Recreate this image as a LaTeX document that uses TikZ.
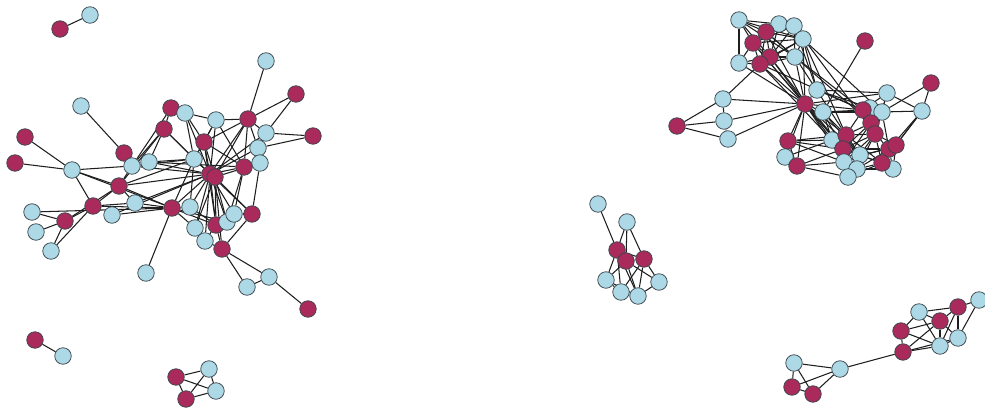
\documentclass[tikz,border=0pt]{standalone}
\usetikzlibrary{backgrounds}
\definecolor{nred}{HTML}{AA2A5C}
\definecolor{nblue}{HTML}{ADD8E6}
\definecolor{nline}{HTML}{37454B}
\definecolor{eline}{HTML}{1E1E1E}
\tikzset{
  vtx/.style={circle,draw=nline,line width=0.75pt,minimum size=16.5pt,inner sep=0pt},
  rv/.style={vtx,fill=nred},
  bv/.style={vtx,fill=nblue},
  link/.style={draw=eline,line width=1.05pt}
}
\newcommand{\links}[1]{\foreach \p/\q in {#1}{\draw[link] (\p) -- (\q);}}
\begin{document}
\begin{tikzpicture}[x=1pt,y=-1pt]
\useasboundingbox (0,0) rectangle (985,408);

% ---------- small components ----------
\node[rv] (p1) at (60,29) {};
\node[bv] (p2) at (90,15) {};
\node[rv] (q1) at (35,340) {};
\node[bv] (q2) at (63,356) {};
\node[rv] (s1) at (176,377) {};
\node[bv] (s2) at (209,369) {};
\node[bv] (s3) at (216,391) {};
\node[rv] (s4) at (186,399) {};

% ---------- left cluster ----------
\node[bv] (L1) at (81,106) {};
\node[rv] (L2) at (25,137) {};
\node[rv] (L3) at (15,163) {};
\node[bv] (L4) at (72,170) {};
\node[rv] (L5) at (124,153) {};
\node[bv] (L6) at (132,166) {};
\node[bv] (L7) at (149,162) {};
\node[rv] (L8) at (119,186) {};
\node[rv] (L9) at (93,206) {};
\node[bv] (L10) at (32,212) {};
\node[rv] (L11) at (65,221) {};
\node[bv] (L12) at (36,232) {};
\node[bv] (L13) at (51,251) {};
\node[bv] (L14) at (112,215) {};
\node[bv] (L15) at (135,203) {};
\node[rv] (L16) at (171,108) {};
\node[bv] (L17) at (185,113) {};
\node[rv] (L18) at (164,129) {};
\node[bv] (L19) at (216,120) {};
\node[rv] (L20) at (204,142) {};
\node[rv] (L21) at (248,119) {};
\node[bv] (L22) at (266,61) {};
\node[rv] (L23) at (296,94) {};
\node[bv] (L24) at (266,133) {};
\node[rv] (L25) at (313,136) {};
\node[bv] (L26) at (258,148) {};
\node[bv] (L27) at (260,163) {};
\node[bv] (L28) at (194,159) {};
\node[rv] (L29) at (210,174) {};
\node[rv] (L30) at (215,177) {};
\node[rv] (L31) at (244,167) {};
\node[rv] (L32) at (172,208) {};
\node[bv] (L33) at (190,207) {};
\node[bv] (L34) at (195,228) {};
\node[bv] (L35) at (205,241) {};
\node[rv] (L36) at (216,225) {};
\node[bv] (L37) at (227,222) {};
\node[bv] (L38) at (234,214) {};
\node[rv] (L39) at (252,214) {};
\node[rv] (L40) at (222,249) {};
\node[bv] (L41) at (146,273) {};
\node[bv] (L42) at (247,287) {};
\node[bv] (L43) at (269,277) {};
\node[rv] (L44) at (308,309) {};

% ---------- upper right cluster ----------
\node[bv] (T1) at (739,20) {};
\node[bv] (T2) at (779,24) {};
\node[bv] (T3) at (794,26) {};
\node[bv] (T6) at (803,39) {};
\node[rv] (T4) at (766,32) {};
\node[rv] (T5) at (753,43) {};
\node[bv] (T10) at (795,57) {};
\node[rv] (T7) at (770,57) {};
\node[rv] (T8) at (760,64) {};
\node[bv] (T9) at (739,63) {};
\node[rv] (T11) at (865,41) {};
\node[bv] (T12) at (723,99) {};
\node[bv] (T14) at (817,90) {};
\node[rv] (T13) at (805,104) {};
\node[bv] (T15) at (823,112) {};
\node[rv] (T16) at (677,126) {};
\node[bv] (T17) at (724,121) {};
\node[bv] (T18) at (728,139) {};
\node[rv] (T19) at (931,83) {};
\node[bv] (T20) at (887,93) {};
\node[bv] (T21) at (922,111) {};
\node[bv] (T23) at (870,108) {};
\node[bv] (T24) at (882,112) {};
\node[rv] (T22) at (863,110) {};
\node[rv] (T25) at (871,123) {};
\node[rv] (T26) at (875,134) {};
\node[bv] (T28) at (832,140) {};
\node[rv] (T27) at (846,135) {};
\node[rv] (T29) at (788,141) {};
\node[rv] (T30) at (843,149) {};
\node[rv] (T31) at (889,149) {};
\node[rv] (T32) at (896,145) {};
\node[bv] (T33) at (785,157) {};
\node[rv] (T34) at (797,166) {};
\node[bv] (T36) at (860,155) {};
\node[bv] (T35) at (844,162) {};
\node[bv] (T40) at (893,169) {};
\node[rv] (T39) at (882,163) {};
\node[bv] (T37) at (857,169) {};
\node[bv] (T38) at (848,177) {};

% ---------- middle cluster ----------
\node[bv] (M1) at (598,204) {};
\node[bv] (M2) at (627,222) {};
\node[rv] (M3) at (617,250) {};
\node[rv] (M4) at (626,261) {};
\node[rv] (M5) at (644,259) {};
\node[bv] (M6) at (606,280) {};
\node[bv] (M7) at (659,282) {};
\node[bv] (M8) at (621,292) {};
\node[bv] (M9) at (638,296) {};

% ---------- lower right cluster ----------
\node[bv] (B1) at (979,300) {};
\node[rv] (B2) at (958,307) {};
\node[bv] (B3) at (919,312) {};
\node[rv] (B4) at (940,321) {};
\node[rv] (B5) at (901,331) {};
\node[bv] (B6) at (958,338) {};
\node[bv] (B7) at (940,346) {};
\node[rv] (B8) at (903,352) {};
\node[bv] (B9) at (794,363) {};
\node[bv] (B10) at (840,369) {};
\node[rv] (B11) at (792,387) {};
\node[rv] (B12) at (813,394) {};

% ---------- edges, kept behind the vertices ----------
\begin{scope}[on background layer]
\links{p1/p2, q1/q2, s1/s2, s1/s3, s4/s2, s4/s3, s1/s4, s2/s3}

\links{L1/L5, L2/L4, L3/L4, L4/L6, L4/L9, L4/L8, L4/L32,
  L9/L11, L9/L8, L9/L15, L9/L32, L9/L13, L10/L32, L10/L11,
  L11/L12, L11/L13, L11/L8, L14/L32, L15/L32,
  L8/L6, L8/L18, L8/L28, L8/L29, L8/L15, L8/L32,
  L5/L6, L6/L18, L6/L16, L7/L18, L6/L7, L7/L28, L7/L29, L7/L31, L6/L29,
  L16/L18, L16/L17, L18/L28, L18/L29,
  L17/L20, L17/L19, L17/L28, L17/L29,
  L19/L20, L19/L21, L19/L29, L19/L31, L19/L28,
  L20/L28, L20/L29, L20/L30, L20/L31, L20/L36,
  L21/L22, L21/L23, L21/L24, L21/L29, L21/L30, L21/L31, L21/L20, L21/L26,
  L23/L24, L24/L25, L24/L29, L26/L25, L26/L27, L26/L29,
  L27/L39, L27/L30, L28/L29, L28/L32, L28/L6, L28/L33,
  L29/L32, L29/L33, L29/L34, L29/L35, L29/L36, L29/L37, L29/L38, L29/L39, L29/L31,
  L30/L34, L30/L36, L30/L37, L30/L40, L31/L38, L31/L37,
  L32/L33, L32/L34, L32/L41, L32/L36, L32/L37, L33/L36,
  L35/L36, L35/L40, L36/L37, L36/L40, L38/L39, L39/L40, L39/L30,
  L40/L43, L40/L42, L42/L43, L43/L44, L15/L29, L14/L29}

\links{T1/T4, T1/T5, T1/T7, T1/T9, T1/T2, T1/T6, T1/T10,
  T2/T4, T2/T5, T2/T6, T2/T3, T2/T7, T3/T4, T3/T5, T3/T6, T3/T7, T3/T10,
  T4/T5, T4/T6, T4/T7, T4/T8, T4/T10, T5/T7, T5/T8, T5/T9, T5/T6,
  T6/T7, T6/T8, T6/T10, T7/T8, T7/T10, T8/T9, T8/T10, T9/T7,
  T5/T13, T7/T13, T8/T13, T10/T13, T4/T13, T6/T13, T9/T13, T6/T14, T3/T14,
  T6/T27, T10/T27, T7/T30, T8/T22, T4/T25, T3/T26, T8/T28, T10/T22, T6/T24, T5/T30,
  T8/T12, T12/T13, T12/T16, T12/T17, T16/T17, T16/T18,
  T17/T13, T18/T13, T17/T18, T11/T15,
  T13/T14, T13/T15, T13/T29, T13/T33, T13/T34, T13/T28, T13/T27, T13/T22,
  T13/T30, T13/T36, T13/T20, T13/T35,
  T14/T20, T14/T22, T14/T23,
  T15/T27, T15/T28, T15/T22, T15/T24, T15/T30, T15/T36,
  T29/T33, T29/T34, T29/T28, T29/T30, T29/T35, T29/T27,
  T33/T34, T34/T35, T34/T30, T34/T38, T33/T28,
  T19/T21, T19/T24, T20/T21, T21/T24, T21/T31, T21/T39, T21/T32,
  T20/T22, T20/T26, T20/T24,
  T22/T23, T22/T25, T22/T27, T22/T26, T23/T24, T23/T25, T24/T25, T24/T26, T24/T31,
  T25/T26, T25/T27, T25/T30, T25/T35, T26/T27, T26/T31, T26/T32, T26/T39,
  T26/T30, T26/T35, T26/T36, T26/T37, T27/T28, T27/T30, T27/T35, T27/T36, T27/T39,
  T28/T30, T28/T35, T30/T35, T30/T36, T30/T38, T30/T37, T30/T39,
  T31/T32, T31/T39, T31/T40, T31/T36, T32/T40, T32/T37,
  T35/T36, T35/T37, T35/T38, T36/T37, T36/T39, T37/T38, T37/T39, T37/T40,
  T38/T39, T39/T40, T32/T35, T31/T30}

\links{M1/M3, M2/M3, M2/M4, M2/M5, M3/M4, M3/M5, M3/M6, M3/M8, M3/M9,
  M4/M5, M4/M6, M4/M9, M4/M7, M5/M7, M5/M9, M5/M8,
  M6/M8, M8/M9, M9/M7, M6/M9}

\links{B1/B2, B1/B6, B2/B3, B2/B6, B2/B7, B2/B4, B3/B5, B3/B4, B3/B7,
  B4/B5, B4/B8, B4/B7, B4/B6, B5/B8, B5/B7, B8/B7, B8/B6, B7/B6,
  B8/B10, B10/B9, B10/B11, B10/B12, B9/B11, B9/B12, B11/B12}
\end{scope}
\end{tikzpicture}
\end{document}
